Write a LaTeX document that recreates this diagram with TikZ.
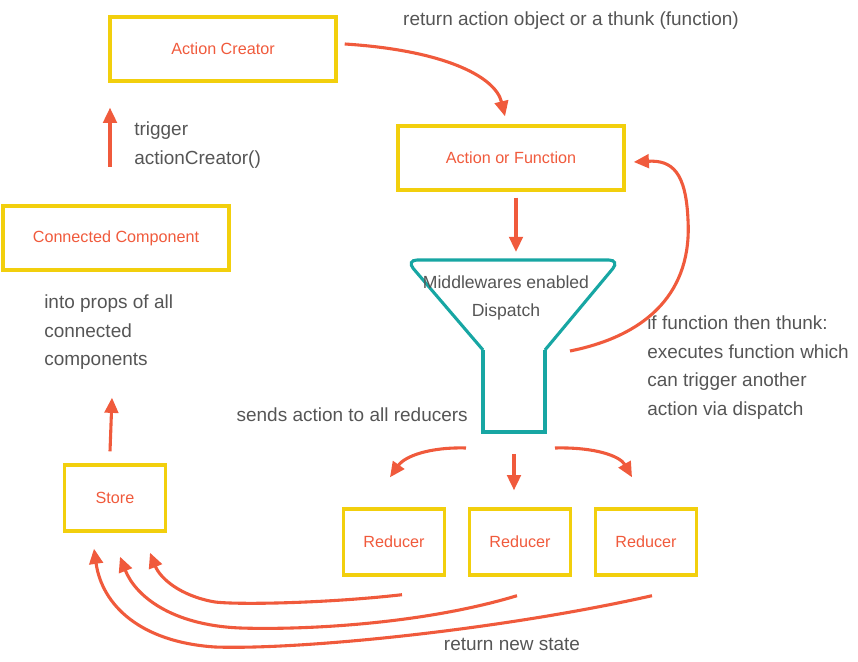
\documentclass[tikz,border=0pt]{standalone}
\usepackage{fontspec}
\setmainfont{Liberation Sans}
\usetikzlibrary{arrows.meta,positioning,calc}
\definecolor{boxyellow}{HTML}{F2CF0D}
\definecolor{arrowred}{HTML}{F05A3C}
\definecolor{funnelteal}{HTML}{17A6A3}
\definecolor{notegray}{HTML}{555555}

\begin{document}
\begin{tikzpicture}[x=0.025cm,y=-0.025cm,
  comp/.style={draw=boxyellow,line width=2.4pt,minimum width=5.65cm,minimum height=1.6cm,
    text=arrowred,font=\fontsize{11.5}{13}\selectfont},
  smallcomp/.style={comp,minimum width=2.53cm,minimum height=1.65cm},
  note/.style={align=left,text=notegray,inner sep=0pt,font=\fontsize{13.5}{20.6}\selectfont},
  arr/.style={draw=arrowred,line width=2.2pt,-{Triangle[length=3.8mm,width=3.4mm]}}]
\useasboundingbox (0,0) rectangle (858,662);
% boxes
\node[comp] (creator) at (223,49) {Action Creator};
\node[comp] (aof) at (511,158) {Action or Function};
\node[comp] (connected) at (116,238) {Connected Component};
\node[smallcomp] (store) at (115,498) {Store};
\node[smallcomp] (red1) at (394,542) {Reducer};
\node[smallcomp] (red2) at (520,542) {Reducer};
\node[smallcomp] (red3) at (646,542) {Reducer};
% funnel
\coordinate (fl) at (483,350);
\coordinate (fr) at (545,350);
\draw[funnelteal,line width=2.2pt,rounded corners=8pt] (fl) -- (406,260) -- (620,260) -- (fr);
\draw[funnelteal,line width=2.2pt] (fl) -- (483,432) -- (545,432) -- (fr);
\node[note,align=center,font=\fontsize{12.5}{20.5}\selectfont] (dispatch) at (506,298) {Middlewares enabled\\Dispatch};
\coordinate (ftop) at (516,252);
\coordinate (fout) at (514,448);
% notes
\node[note,anchor=south] (thunknote) at (571,30) {return action object or a thunk (function)};
\node[note,anchor=north west] (trignote) at (134,121) {trigger\\actionCreator()};
\node[note,anchor=north west] (propsnote) at (44,294) {into props of all\\connected\\components};
\node[note,anchor=south east] (sendnote) at (468,422) {sends action to all reducers};
\node[note,anchor=north west] (ifnote) at (647,315) {if function then thunk:\\executes function which\\can trigger another\\action via dispatch};
\node[note,anchor=south] (retnote) at (512,651) {return new state};
% arrows
\draw[arr] ($(creator.east)+(7,-5)$) .. controls (440,50) and (495,75) .. ($(aof.north)+(-6,-8)$);
\draw[arr] ($(aof.south)+(5,6)$) -- (ftop);
\draw[arr] ($(creator.south)+(-113,84)$) -- ($(creator.south)+(-113,25)$);
\draw[arr] ($(store.north)+(-5,-12)$) -- ($(connected.south)+(-4,126)$);
\draw[arr] ($(fr)+(25,1)$) .. controls (650,335) and (692,290) .. (688,220)
  .. controls (686,172) and (672,160) .. ($(aof.east)+(8,4)$);
\draw[arr] ($(fout)+(-48,0)$) .. controls (430,447) and (405,456) .. ($(red1.north)+(-4,-30)$);
\draw[arr] ($(fout)+(0,6)$) -- ($(red2.north)+(-6,-17)$);
\draw[arr] ($(fout)+(41,0)$) .. controls (595,447) and (620,456) .. ($(red3.north)+(-14,-30)$);
\draw[arr] ($(red1.south)+(8,18)$) .. controls (330,603) and (240,605) .. (215,602)
  .. controls (180,596) and (160,578) .. ($(store.south)+(35,20)$);
\draw[arr] ($(red2.south)+(-3,19)$) .. controls (420,625) and (300,630) .. (240,628)
  .. controls (170,625) and (135,595) .. ($(store.south)+(5,24)$);
\draw[arr] ($(red3.south)+(6,19)$) .. controls (500,630) and (300,650) .. (215,647)
  .. controls (140,642) and (102,605) .. ($(store.south)+(-21,16)$);
\end{tikzpicture}
\end{document}
